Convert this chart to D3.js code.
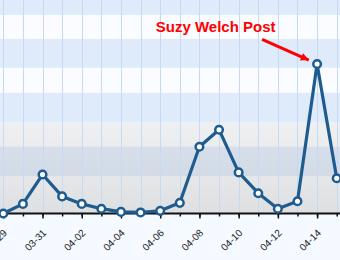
<!DOCTYPE html>
<html>
<head>
<meta charset="utf-8">
<script src="https://cdn.jsdelivr.net/npm/d3@7"></script>
<style>
  html, body { margin: 0; padding: 0; background: #f4faff; }
  svg { display: block; }
</style>
</head>
<body>
<div id="chart"></div>
<script>
// daily visits
const dates = [
  '2010-03-29', '2010-03-30', '2010-03-31', '2010-04-01', '2010-04-02', '2010-04-03',
  '2010-04-04', '2010-04-05', '2010-04-06', '2010-04-07', '2010-04-08', '2010-04-09',
  '2010-04-10', '2010-04-11', '2010-04-12', '2010-04-13', '2010-04-14', '2010-04-15'
];
const visits = [0, 18, 73, 32, 18, 9, 3, 2, 5, 20, 125, 157, 77, 38, 9, 23, 280, 66];
const tickLabels = ['03-29', '03-31', '04-02', '04-04', '04-06', '04-08', '04-10', '04-12', '04-14'];
const blueBands = [[70, 125], [171, 226], [273, 327], [372, 400]];
const glossFrom = 171;
const noteDate = '2010-04-14';
const noteText = 'Suzy Welch Post';


/**
 * @private
 * @class
 */
class VisitsChart {


  /**
   * @public
   * @constructor
   */
  constructor() {

    this._width = 340;
    this._height = 260;
    this._bottom = 213.5;
    this._parse = d3.utcParse('%Y-%m-%d');
  }


  /**
   * @public
   * @static
   * @returns {VisitsChart}
   */
  static getInstance() {

    return new VisitsChart();
  }


  /**
   * Set data.
   * @public
   * @returns {VisitsChart}
   */
  setData(dates, values) {

    this._data = dates.map((d, i) => ({ date: this._parse(d), value: values[i] }));

    this._xScale = d3.scaleUtc()
      .domain(d3.extent(this._data, d => d.date))
      .range([3.3, 336.7]);

    this._yScale = d3.scaleLinear()
      .domain([0, 400])
      .range([this._bottom, 0]);

    return this;
  }


  /**
   * Render chart.
   * @public
   * @param {HTMLElement} container
   * @returns {VisitsChart}
   */
  renderTo(container) {

    const x = this._xScale;
    const y = this._yScale;
    const blue = '#1e5b8e';

    this._svg = d3.select(container)
      .append('svg')
      .attr('width', this._width)
      .attr('height', this._height);

    const defs = this._svg.append('defs');

    const gloss = defs.append('linearGradient')
      .attr('id', 'gloss')
      .attr('x1', 0).attr('y1', 0)
      .attr('x2', 0).attr('y2', 1);
    gloss.append('stop').attr('offset', 0).attr('stop-color', '#c4c4c4').attr('stop-opacity', 0.22);
    gloss.append('stop').attr('offset', 1).attr('stop-color', '#b0b0b0').attr('stop-opacity', 0.38);

    defs.append('marker')
      .attr('id', 'arrow')
      .attr('markerUnits', 'userSpaceOnUse')
      .attr('viewBox', '0 0 10 10')
      .attr('refX', 10)
      .attr('refY', 5)
      .attr('markerWidth', 9)
      .attr('markerHeight', 8)
      .attr('orient', 'auto')
      .append('path')
      .attr('d', 'M0,0L10,5L0,10Z')
      .style('fill', '#f00');

    // plot background and bands
    this._svg.append('rect')
      .attr('width', this._width)
      .attr('height', this._bottom)
      .style('fill', '#fafcff');

    this._svg.selectAll('.band')
      .data(blueBands)
      .enter()
      .append('rect')
      .attr('class', 'band')
      .attr('x', 0)
      .attr('width', this._width)
      .attr('y', d => y(d[1]))
      .attr('height', d => y(d[0]) - y(d[1]))
      .style('fill', '#dfeafb');

    this._svg.append('rect')
      .attr('x', 0)
      .attr('width', this._width)
      .attr('y', y(glossFrom))
      .attr('height', this._bottom - y(glossFrom))
      .style('fill', 'url(#gloss)');

    // vertical grid, one line per day
    const days = d3.utcDay.range(x.domain()[0], d3.utcDay.offset(x.domain()[1], 1));

    this._svg.selectAll('.grid')
      .data(days)
      .enter()
      .append('line')
      .attr('class', 'grid')
      .attr('x1', d => Math.round(x(d)) + 0.5)
      .attr('x2', d => Math.round(x(d)) + 0.5)
      .attr('y1', 0)
      .attr('y2', this._bottom)
      .style('stroke', '#c6daf4')
      .style('stroke-width', 1);

    // x axis
    const axisG = this._svg.append('g')
      .attr('transform', `translate(0,${this._bottom})`);

    axisG.append('g')
      .call(d3.axisBottom(x).tickValues(days).tickSize(3).tickSizeOuter(0).tickFormat(''))
      .call(g => g.select('.domain').remove());

    axisG.append('g')
      .call(d3.axisBottom(x)
        .tickValues(tickLabels.map(t => this._parse('2010-' + t)))
        .tickSize(5)
        .tickSizeOuter(0)
        .tickFormat(d3.utcFormat('%m-%d')))
      .call(g => g.select('.domain').remove())
      .call(g => g.selectAll('text')
        .attr('x', 0)
        .attr('y', 0)
        .attr('dy', 0)
        .attr('text-anchor', 'end')
        .attr('transform', 'translate(4,20) rotate(-45)')
        .style('font-family', '"Liberation Sans", Arial, sans-serif')
        .style('font-size', '10px')
        .style('fill', '#222'));

    axisG.selectAll('.tick line')
      .style('stroke', '#111')
      .style('stroke-width', 1.5);

    axisG.append('line')
      .attr('x1', 0)
      .attr('x2', this._width)
      .style('stroke', '#111')
      .style('stroke-width', 2);

    // series
    const line = d3.line()
      .x(d => x(d.date))
      .y(d => y(d.value));

    this._svg.append('path')
      .datum(this._data)
      .attr('d', line)
      .style('fill', 'none')
      .style('stroke', blue)
      .style('stroke-width', 3.2)
      .style('stroke-linejoin', 'round');

    this._svg.selectAll('.point')
      .data(this._data)
      .enter()
      .append('circle')
      .attr('class', 'point')
      .attr('cx', d => x(d.date))
      .attr('cy', d => y(d.value))
      .attr('r', 3.8)
      .style('fill', '#fff')
      .style('stroke', blue)
      .style('stroke-width', 2.5);

    // annotation
    const peak = this._data.find(d => +d.date === +this._parse(noteDate));
    const px = x(peak.date);
    const py = y(peak.value);

    this._svg.append('line')
      .attr('x1', px - 55)
      .attr('y1', py - 24.7)
      .attr('x2', px - 8.3)
      .attr('y2', py - 4)
      .attr('marker-end', 'url(#arrow)')
      .style('stroke', '#f00')
      .style('stroke-width', 3);

    this._svg.append('text')
      .attr('x', px - 41.6)
      .attr('y', py - 31.7)
      .attr('text-anchor', 'end')
      .style('font-family', '"Liberation Sans", Arial, sans-serif')
      .style('font-size', '15px')
      .style('font-weight', 'bold')
      .style('fill', '#f00')
      .text(noteText);

    return this;
  }
}


VisitsChart.getInstance()
  .setData(dates, visits)
  .renderTo(document.getElementById('chart'));
</script>
</body>
</html>
